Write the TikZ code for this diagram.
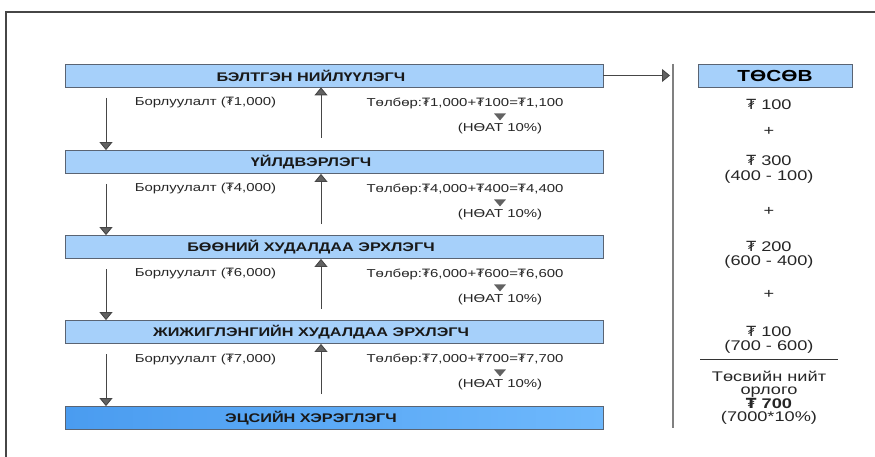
\documentclass[tikz,border=0pt]{standalone}
\usepackage{fontspec}
\setmainfont{Liberation Sans}[FakeStretch=1.3]
\newfontfamily\tgfont{DejaVu Sans}[FakeStretch=1.1]
\usepackage{tikz}
\usetikzlibrary{arrows.meta}
\usetikzlibrary{positioning}
\usetikzlibrary{calc}
\definecolor{boxblue}{RGB}{166,208,250}
\definecolor{deepblue}{RGB}{74,156,240}
\definecolor{lightdeep}{RGB}{110,184,252}
\definecolor{edgegray}{RGB}{90,100,115}
\definecolor{linegray}{RGB}{70,70,70}
\newcommand{\tg}{{\tgfont ₮}}
\tikzset{arr/.style = {draw=linegray, line width=0.9pt,
                       -{Triangle[length=8pt, width=13pt, fill=linegray!85]}}}
\tikzset{stage/.style = {draw=edgegray, fill=boxblue, line width=0.8pt,
                         minimum width=538pt, minimum height=23pt, inner sep=0,
                         label={[xshift=-23pt, inner sep=0, text=black!90,
                                 font=\fontsize{12.5}{12.5}\selectfont\bfseries]center:#1}}}
\tikzset{small/.style = {inner sep=0, font=\fontsize{11.5}{13}\selectfont, text=black!85}}
\tikzset{sum/.style = {inner sep=0, align=center, font=\fontsize{14}{14.5}\selectfont, text=black!85}}
\tikzset{vat/.style = {fill=linegray!85}}

\begin{document}
\begin{tikzpicture}[x=1pt, y=-1pt]
      \useasboundingbox (0, 0) rectangle (875, 457);
      \draw [linegray, line width=1.2pt] (6, 457) -- (6, 12) -- (875, 12);
      % chain of stages
      \node [stage={БЭЛТГЭН НИЙЛҮҮЛЭГЧ}] (s1) at (334, 75.5) {};
      \node [stage={ҮЙЛДВЭРЛЭГЧ}] (s2) at (334, 162) {};
      \node [stage={БӨӨНИЙ ХУДАЛДАА ЭРХЛЭГЧ}] (s3) at (334, 247) {};
      \node [stage={ЖИЖИГЛЭНГИЙН ХУДАЛДАА ЭРХЛЭГЧ}] (s4) at (334, 332) {};
      \node [stage={ЭЦСИЙН ХЭРЭГЛЭГЧ}, fill=none, left color=deepblue, right color=lightdeep] (s5) at (334, 418) {};
      % sales and payments
      \draw [arr] (106, 98) -- (s2.north -| 106, 0);
      \draw [arr] (321, 138) -- (s1.south -| 321, 0);
      \node [small] (b1) at (205.5, 103) {Борлуулалт (\tg1,000)};
      \node [small] (p1) at (465, 103) {Төлбөр:\tg1,000+\tg100=\tg1,100};
      \node [small] (v1) at (500, 129) {(НӨАТ 10\%)};
      \fill [vat] ($(v1.north)+(-6,-10)$) -- ++(12, 0) -- ++(-6, 7) -- cycle;
      \draw [arr] (106, 184) -- (s3.north -| 106, 0);
      \draw [arr] (321, 224) -- (s2.south -| 321, 0);
      \node [small] (b2) at (205.5, 189) {Борлуулалт (\tg4,000)};
      \node [small] (p2) at (465, 189) {Төлбөр:\tg4,000+\tg400=\tg4,400};
      \node [small] (v2) at (500, 215) {(НӨАТ 10\%)};
      \fill [vat] ($(v2.north)+(-6,-10)$) -- ++(12, 0) -- ++(-6, 7) -- cycle;
      \draw [arr] (106, 269) -- (s4.north -| 106, 0);
      \draw [arr] (321, 309) -- (s3.south -| 321, 0);
      \node [small] (b3) at (205.5, 274) {Борлуулалт (\tg6,000)};
      \node [small] (p3) at (465, 274) {Төлбөр:\tg6,000+\tg600=\tg6,600};
      \node [small] (v3) at (500, 300) {(НӨАТ 10\%)};
      \fill [vat] ($(v3.north)+(-6,-10)$) -- ++(12, 0) -- ++(-6, 7) -- cycle;
      \draw [arr] (106, 354) -- (s5.north -| 106, 0);
      \draw [arr] (321, 394) -- (s4.south -| 321, 0);
      \node [small] (b4) at (205.5, 359) {Борлуулалт (\tg7,000)};
      \node [small] (p4) at (465, 359) {Төлбөр:\tg7,000+\tg700=\tg7,700};
      \node [small] (v4) at (500, 385) {(НӨАТ 10\%)};
      \fill [vat] ($(v4.north)+(-6,-10)$) -- ++(12, 0) -- ++(-6, 7) -- cycle;
      % budget column
      \draw [gray, line width=1.2pt] (673, 64) coordinate (top) -- (673, 428);
      \draw [arr] (s1.east) -- (s1.east -| 670, 0);
      \node [draw=edgegray, fill=boxblue, line width=0.8pt, minimum width=154pt, minimum height=23pt,
             inner sep=0, font=\fontsize{16}{16}\selectfont\bfseries] (budget) at (775, 75.5) {ТӨСӨВ};
      \node [sum] (r1) at (769, 104) {\tg\ 100};
      \node [sum] (plus1) at (769, 131) {+};
      \node [sum] (r2) at (769, 169.5) {\tg\ 300\\(400 - 100)};
      \node [sum] (plus2) at (769, 211) {+};
      \node [sum] (r3) at (769, 255) {\tg\ 200\\(600 - 400)};
      \node [sum] (plus3) at (769, 294) {+};
      \node [sum] (r4) at (769, 340) {\tg\ 100\\(700 - 600)};
      \draw [black!80, line width=0.8pt] (700, 359) -- (838, 359);
      \node [sum, font=\fontsize{14}{13}\selectfont] (total) at (769, 398) {Төсвийн нийт\\орлого\\\textbf{\tg\ 700}\\(7000*10\%)};
    \end{tikzpicture}
\end{document}
